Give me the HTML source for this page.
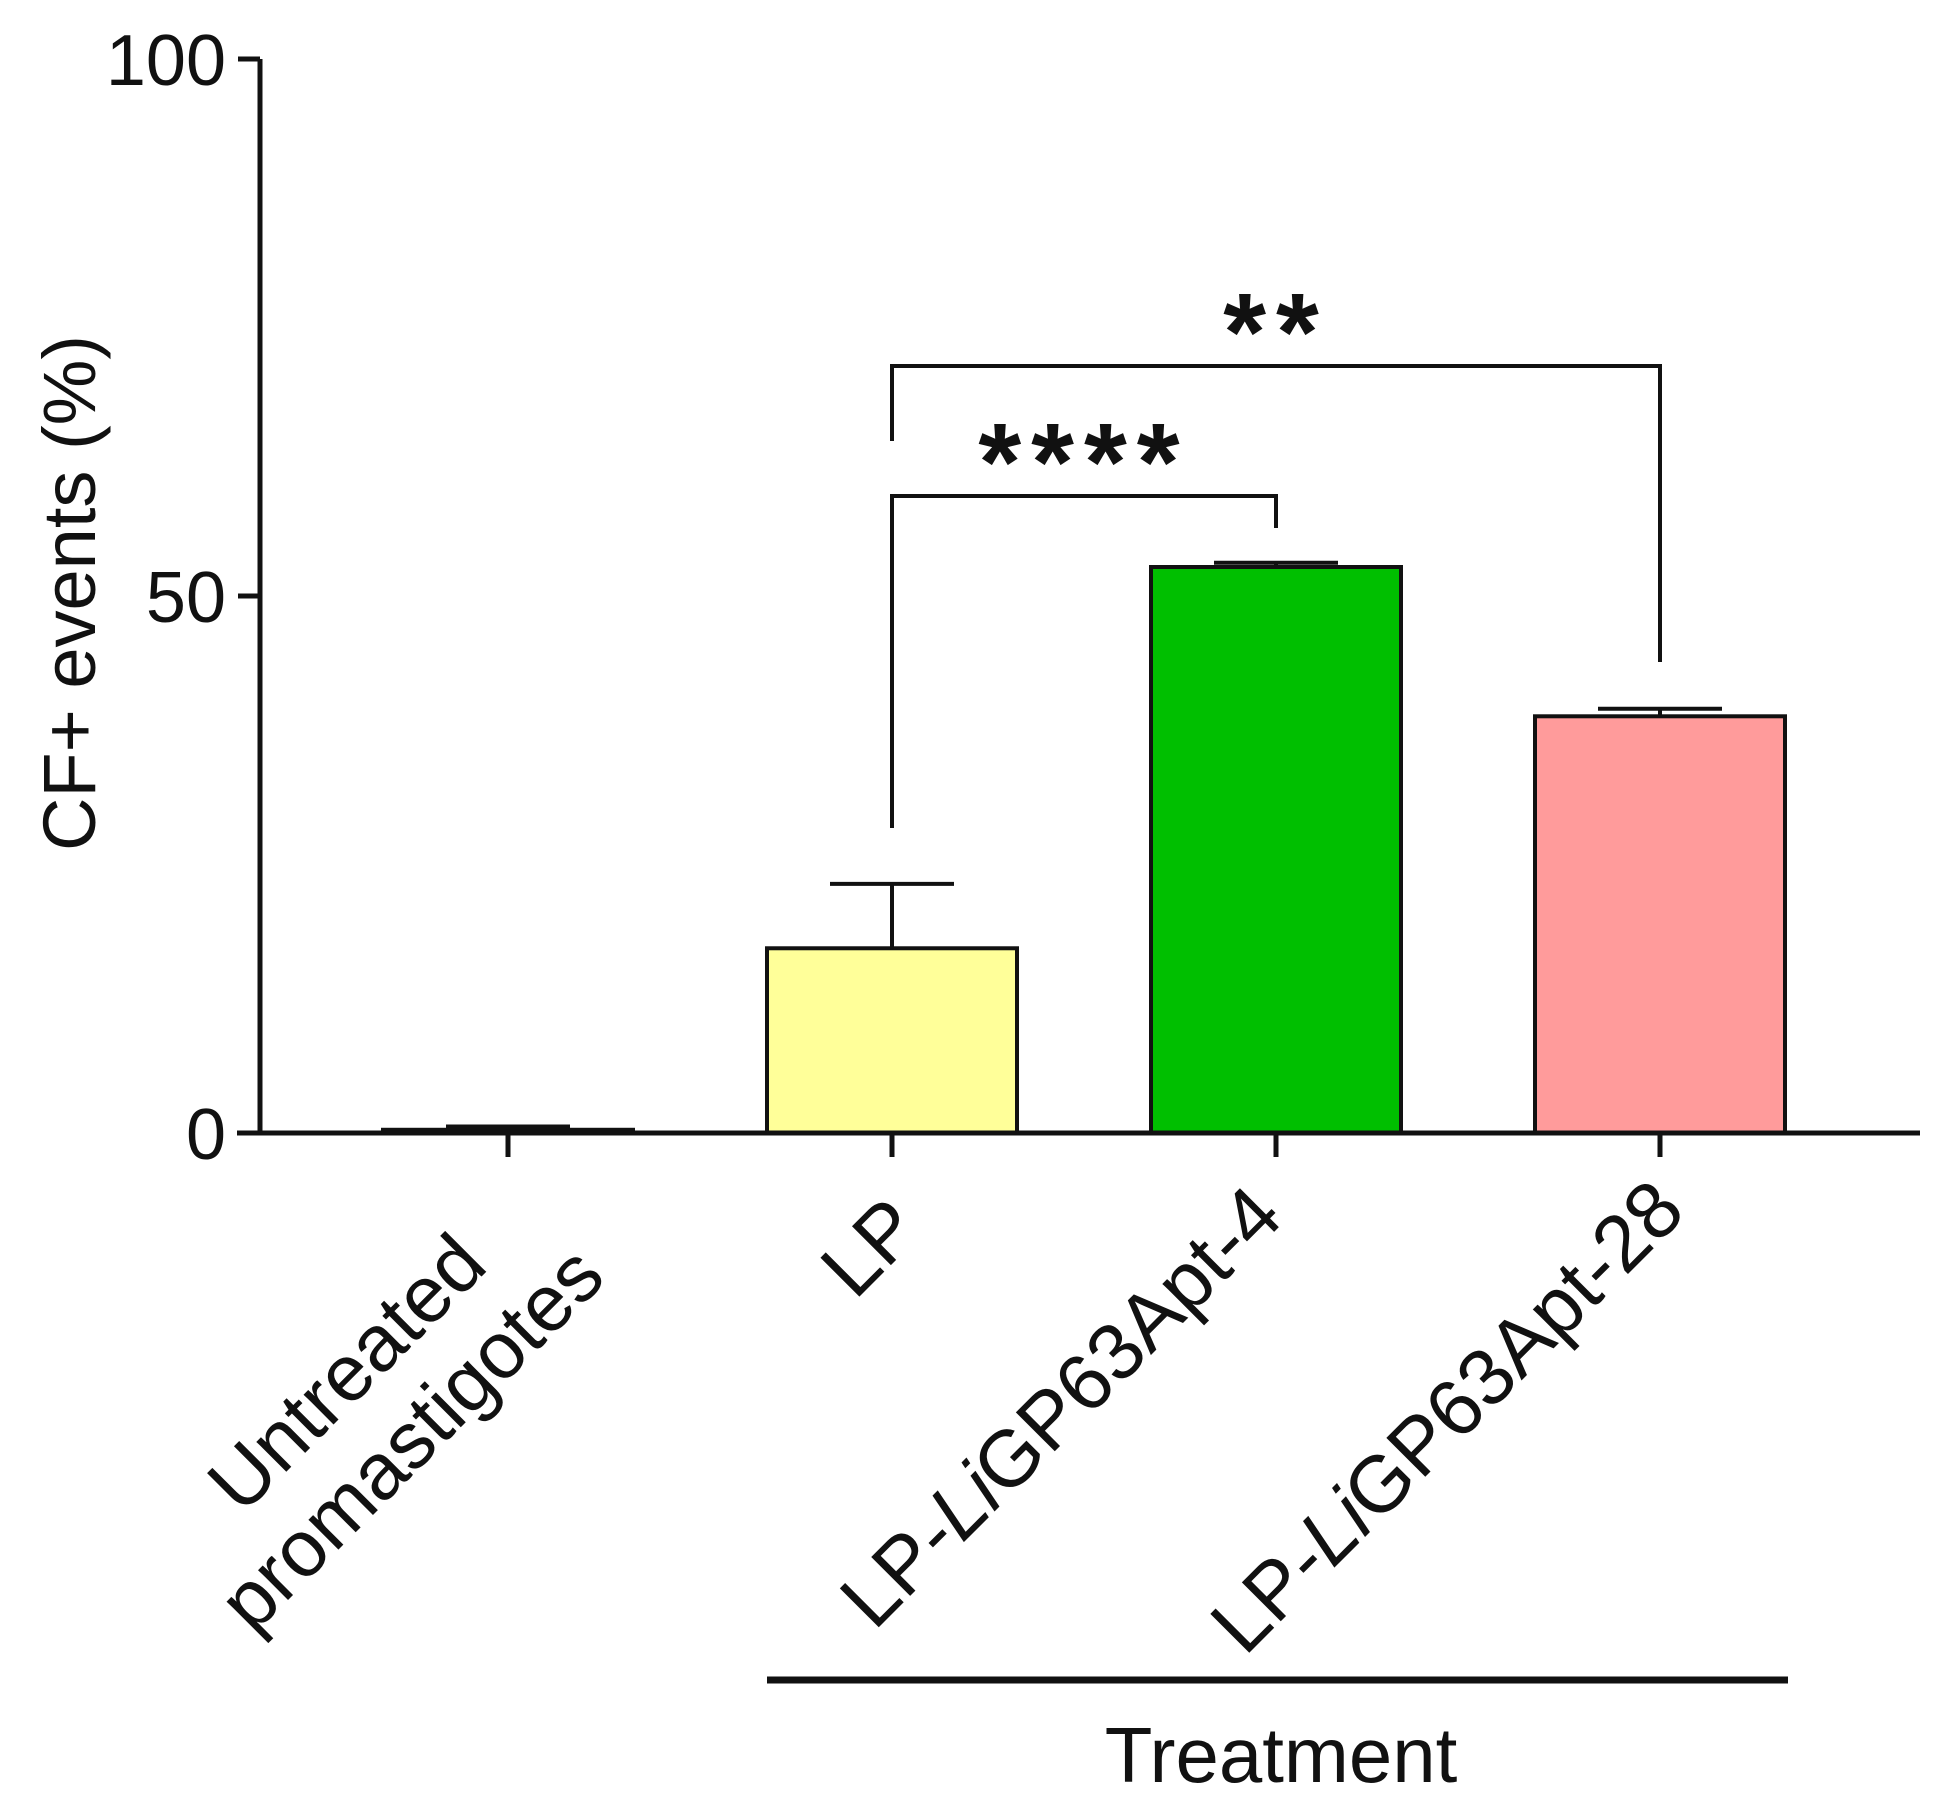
<!DOCTYPE html>
<html><head><meta charset="utf-8"><style>
html,body{margin:0;padding:0;background:#fff;}
svg{display:block;font-family:"Liberation Sans",Arial,sans-serif;}
</style></head><body>
<svg id="chart" width="1949" height="1805" viewBox="0 0 1949 1805" xmlns="http://www.w3.org/2000/svg"></svg>
<script>
const categories = ["Untreated promastigotes", "LP", "LP-LiGP63Apt-4", "LP-LiGP63Apt-28"];
const values = [0.3, 17.2, 52.7, 38.8];
const errors = [0.3, 6.0, 0.4, 0.7];
const colors = ["#ffffff", "#ffff99", "#00bf00", "#ff9b9b"];
const yTicks = [0, 50, 100];
const sigLabels = ["****", "**"];

const NS = "http://www.w3.org/2000/svg";
const svg = document.getElementById("chart");
const x0 = 260, y0 = 1133, yTop = 59;
const yScale = v => y0 - (v / 100) * (y0 - yTop);
const bandStart = 316, band = 384;
const xCenter = i => bandStart + band * (i + 0.5);
const barW = 250;

function mk(tag, attrs, parent) {
  const e = document.createElementNS(NS, tag);
  for (const k in attrs) e.setAttribute(k, attrs[k]);
  (parent || svg).appendChild(e);
  return e;
}

values.forEach((v, i) => {
  const cx = xCenter(i);
  const r = mk("rect", {x: cx - barW / 2, y: yScale(v), width: barW, height: y0 - yScale(v), fill: colors[i], stroke: "#111", "stroke-width": 4});
  
  
  const et = yScale(v + errors[i]);
  const g = mk("g", {stroke: "#111", "stroke-width": 4});
  
  
  mk("line", {x1: cx, y1: yScale(v), x2: cx, y2: et}, g);
  mk("line", {x1: cx - 62, y1: et, x2: cx + 62, y2: et}, g);
});

const ya = mk("g", {stroke: "#111", "stroke-width": 5});


mk("line", {x1: x0, y1: yTop, x2: x0, y2: y0}, ya);
yTicks.forEach(t => {
  mk("line", {x1: x0 - 22, y1: yScale(t), x2: x0, y2: yScale(t)}, ya);
  const tx = mk("text", {x: x0 - 34, y: yScale(t) + 26, "text-anchor": "end", "font-size": 72, fill: "#111", stroke: "none"});
  tx.textContent = t;
  
  
});
const yt = mk("text", {x: 0, y: 0, transform: "translate(95,593) rotate(-90)", "text-anchor": "middle", "font-size": 74, fill: "#111"});
yt.textContent = "CF+ events (%)";



const xa = mk("g", {stroke: "#111", "stroke-width": 5});


mk("line", {x1: 237, y1: y0, x2: 1920, y2: y0}, xa);
categories.forEach((c, i) => mk("line", {x1: xCenter(i), y1: y0, x2: xCenter(i), y2: y0 + 24}, xa));

function rotLabel(x, y, parts, name) {
  const t = mk("text", {x: 0, y: 0, transform: `translate(${x},${y}) rotate(-45)`, "text-anchor": "end", "font-size": 80, fill: "#111"});
  
  
  parts.forEach(p => {
    const s = mk("tspan", p[1] ? {"font-style": "italic"} : {}, t);
    s.textContent = p[0];
  });
}
rotLabel(xCenter(0) - 18, 1268, [["Untreated", false]], "x-label-untreated");
rotLabel(xCenter(0) + 100, 1280, [["promastigotes", false]], "x-label-promastigotes");
rotLabel(xCenter(1) + 32, 1232, [["LP", false]], "x-label-lp");
rotLabel(xCenter(2) + 10, 1220, [["LP-", false], ["Li", true], ["GP63Apt-4", false]], "x-label-apt4");
rotLabel(xCenter(3) + 28, 1214, [["LP-", false], ["Li", true], ["GP63Apt-28", false]], "x-label-apt28");

function bracket(i, j, yb, yl, yr, label, name) {
  const g = mk("g", {});
  
  
  mk("path", {d: `M${xCenter(i)},${yl} V${yb} H${xCenter(j)} V${yr}`, fill: "none", stroke: "#111", "stroke-width": 4}, g);
  const t = mk("text", {x: (xCenter(i) + xCenter(j)) / 2, y: yb + 4, "text-anchor": "middle", "font-size": 110, "font-weight": "bold", "letter-spacing": 10, fill: "#111"}, g);
  t.textContent = label;
}
bracket(1, 2, 496, 828, 528, sigLabels[0], "significance-lp-apt4");
bracket(1, 3, 366, 441, 662, sigLabels[1], "significance-lp-apt28");

const tl = mk("line", {x1: 767, y1: 1680, x2: 1788, y2: 1680, stroke: "#111", "stroke-width": 7});


const tt = mk("text", {x: 1281, y: 1782, "text-anchor": "middle", "font-size": 78, fill: "#111"});
tt.textContent = "Treatment";


</script>
</body></html>
